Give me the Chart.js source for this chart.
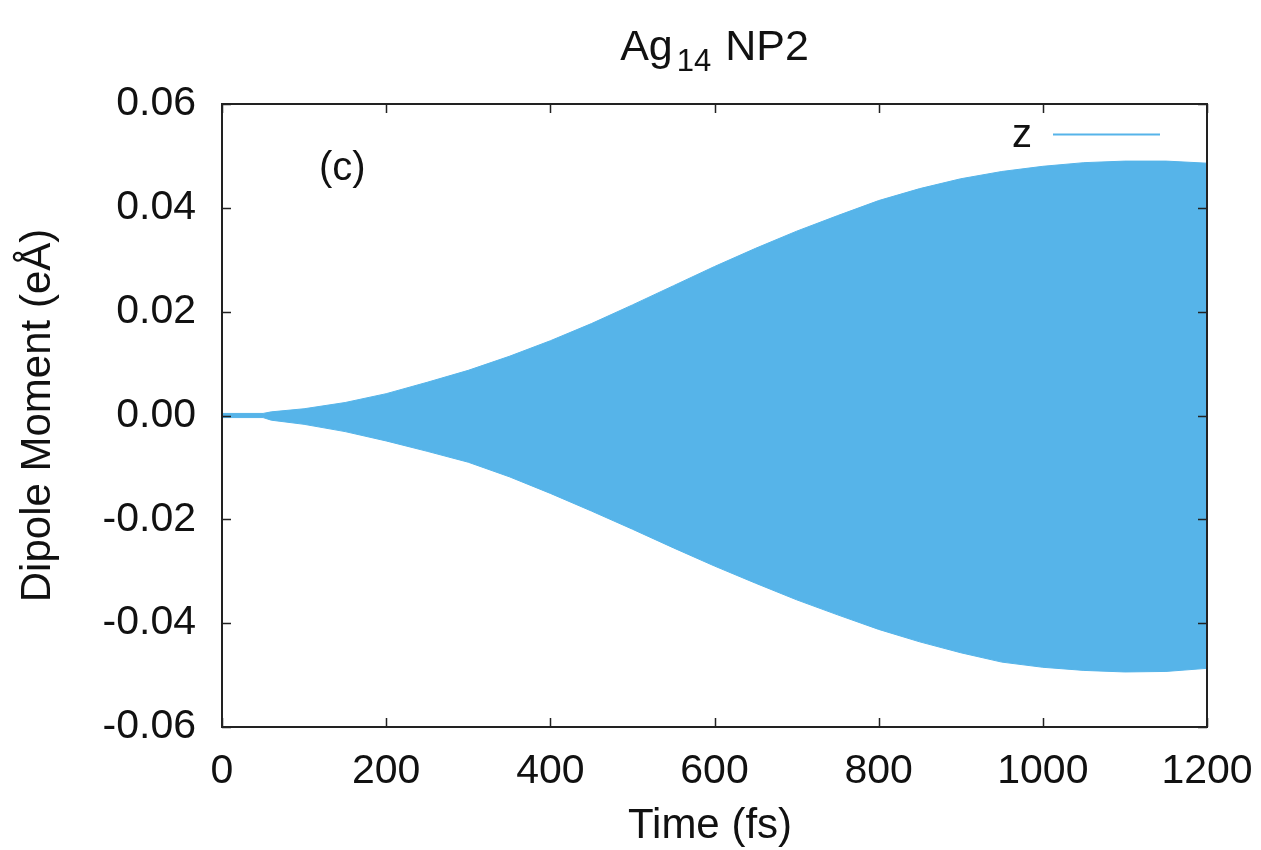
<!DOCTYPE html>
<html>
<head>
<meta charset="utf-8">
<script src="https://cdn.jsdelivr.net/npm/chart.js@4.4.1/dist/chart.umd.min.js"></script>
<style>
  html, body { margin: 0; padding: 0; background: #fff; }
  canvas { display: block; }
</style>
</head>
<body>
<canvas id="c" width="1261" height="850"></canvas>
<script>
// Envelope of the rapidly oscillating z dipole
const timeFs = [0, 50, 60, 100, 150, 200, 250, 300, 350, 400, 450, 500, 550, 600, 650, 700, 750, 800, 850, 900, 950, 1000, 1050, 1100, 1150, 1200];
const upperZ = [0.0004, 0.0004, 0.0007, 0.0013, 0.0025, 0.0042, 0.0064, 0.0087, 0.0114, 0.0144, 0.0177, 0.0213, 0.0250, 0.0287, 0.0322, 0.0355, 0.0385, 0.0414, 0.0437, 0.0456, 0.0470, 0.0480, 0.0487, 0.0490, 0.0490, 0.0486];
const lowerZ = [-0.0004, -0.0004, -0.0009, -0.0017, -0.0031, -0.0049, -0.0069, -0.0090, -0.0118, -0.0150, -0.0184, -0.0219, -0.0255, -0.0290, -0.0323, -0.0355, -0.0384, -0.0412, -0.0436, -0.0457, -0.0475, -0.0485, -0.0491, -0.0494, -0.0493, -0.0487];
const xTicks = [0, 200, 400, 600, 800, 1000, 1200];
const yTicks = [-0.06, -0.04, -0.02, 0.00, 0.02, 0.04, 0.06];
const seriesName = 'z';
const panelLabel = '(c)';
const titleMain = 'Ag';
const titleSub = '14';
const titleRest = ' NP2';
const xTitle = 'Time (fs)';
const yTitle = 'Dipole Moment (eÅ)';

const BLUE = '#56b4e9';
const FONT = '"Liberation Sans", Arial, sans-serif';

const upperPts = timeFs.map((t, i) => ({ x: t, y: upperZ[i] }));
const lowerPts = timeFs.map((t, i) => ({ x: t, y: lowerZ[i] }));

const decor = {
    id: 'decor',
    afterDraw(chart) {
        const ctx = chart.ctx;
        const a = chart.chartArea;
        const xs = chart.scales.x, ys = chart.scales.y;
        ctx.save();

        // frame
        ctx.strokeStyle = '#222';
        ctx.lineWidth = 2;
        ctx.strokeRect(a.left, a.top, a.right - a.left, a.bottom - a.top);

        // inward ticks, mirrored
        const tl = 9;
        ctx.lineWidth = 1.5;
        ctx.beginPath();
        xTicks.forEach(v => {
            const px = Math.round(xs.getPixelForValue(v)) + 0.5;
            ctx.moveTo(px, a.bottom); ctx.lineTo(px, a.bottom - tl);
            ctx.moveTo(px, a.top); ctx.lineTo(px, a.top + tl);
        });
        yTicks.forEach(v => {
            const py = Math.round(ys.getPixelForValue(v)) + 0.5;
            ctx.moveTo(a.left, py); ctx.lineTo(a.left + tl, py);
            ctx.moveTo(a.right, py); ctx.lineTo(a.right - tl, py);
        });
        ctx.stroke();

        ctx.fillStyle = '#111';
        ctx.textBaseline = 'alphabetic';

        // title with subscript
        ctx.font = '43px ' + FONT;
        const wMain = ctx.measureText(titleMain).width;
        const wRest = ctx.measureText(titleRest).width;
        ctx.font = '31px ' + FONT;
        const wSub = ctx.measureText(titleSub).width;
        const total = wMain + wSub + 6 + wRest;
        let tx = (a.left + a.right) / 2 - total / 2;
        ctx.textAlign = 'left';
        ctx.font = '43px ' + FONT;
        ctx.fillText(titleMain, tx, 60);
        tx += wMain + 4;
        ctx.font = '31px ' + FONT;
        ctx.fillText(titleSub, tx, 71);
        tx += wSub + 2;
        ctx.font = '43px ' + FONT;
        ctx.fillText(titleRest, tx, 60);

        // panel label
        ctx.font = '40px ' + FONT;
        ctx.fillText(panelLabel, 319, 180);

        // legend
        ctx.textAlign = 'right';
        ctx.fillText(seriesName, 1032, 147);
        ctx.strokeStyle = BLUE;
        ctx.lineWidth = 2;
        ctx.beginPath();
        ctx.moveTo(1053, 134.5); ctx.lineTo(1160, 134.5);
        ctx.stroke();

        // axis titles
        ctx.font = '42px ' + FONT;
        ctx.textAlign = 'center';
        ctx.textBaseline = 'middle';
        ctx.fillText(xTitle, 710, 826);
        ctx.save();
        ctx.translate(38, (a.top + a.bottom) / 2);
        ctx.rotate(-Math.PI / 2);
        ctx.fillText(yTitle, 0, 0);
        ctx.restore();

        ctx.restore();
    }
};

new Chart(document.getElementById('c'), {
    type: 'line',
    data: {
        datasets: [
            { label: seriesName, data: upperPts, borderColor: BLUE, backgroundColor: BLUE, borderWidth: 1, pointRadius: 0, fill: '+1', tension: 0 },
            { label: seriesName + ' lower', data: lowerPts, borderColor: BLUE, backgroundColor: BLUE, borderWidth: 1, pointRadius: 0, fill: false, tension: 0 }
        ]
    },
    options: {
        responsive: false,
        animation: false,
        devicePixelRatio: 1,
        layout: { padding: { left: 0, right: 54, top: 104, bottom: 0 } },
        plugins: { legend: { display: false }, tooltip: { enabled: false } },
        scales: {
            x: {
                type: 'linear', min: 0, max: 1200,
                afterBuildTicks: s => { s.ticks = xTicks.map(v => ({ value: v })); },
                afterFit: s => { s.height = 123; s.paddingRight = 0; s.paddingLeft = 0; },
                grid: { display: false }, border: { display: false },
                ticks: { color: '#111', font: { family: FONT, size: 41 }, padding: 12, maxRotation: 0, callback: v => String(v) }
            },
            y: {
                type: 'linear', min: -0.06, max: 0.06,
                afterBuildTicks: s => { s.ticks = yTicks.map(v => ({ value: v })); },
                afterFit: s => { s.width = 222; },
                grid: { display: false }, border: { display: false },
                ticks: { color: '#111', font: { family: FONT, size: 41 }, padding: 18, callback: v => v.toFixed(2) }
            }
        }
    },
    plugins: [decor]
});
</script>
</body>
</html>
